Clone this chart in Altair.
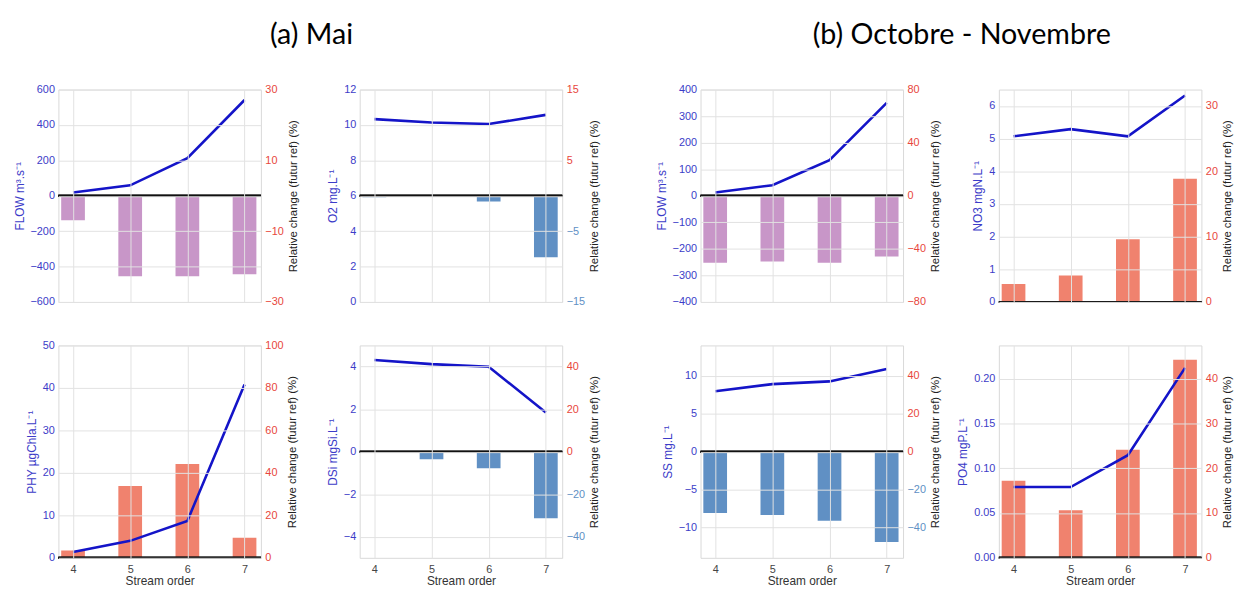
import altair as alt
import pandas as pd

# ---------------- data ----------------
orders = [4, 5, 6, 7]

# (a) Mai
flow_mai = [19, 59, 213, 541]
flow_mai_chg = [-6.9, -22.7, -22.7, -22.2]
o2_mai = [10.33, 10.14, 10.05, 10.57]
o2_mai_chg = [-0.2, -0.1, -0.8, -8.7]
phy_mai = [1.4, 4.0, 8.7, 40.8]
phy_mai_chg = [3.4, 33.8, 44.2, 9.5]
dsi_mai = [4.31, 4.12, 4.0, 1.84]
dsi_mai_chg = [-0.1, -3.6, -7.8, -31.4]

# (b) Octobre - Novembre
flow_on = [12, 40, 134, 350]
flow_on_chg = [-50.5, -49.5, -50.5, -45.8]
no3_on = [5.07, 5.29, 5.07, 6.32]
no3_on_chg = [2.76, 4.06, 9.58, 18.87]
ss_on = [7.96, 8.9, 9.26, 10.9]
ss_on_chg = [-32.3, -33.4, -36.5, -47.7]
po4_on = [0.079, 0.079, 0.1145, 0.212]
po4_on_chg = [17.2, 10.6, 24.1, 44.2]

RIGHT_TITLE = "Relative change (futur ref) (%)"

# ---------------- styles ----------------
LINE_BLUE = "#1414c8"
LAB_BLUE = "#3c3cc8"
LAB_RED = "#e8463c"
PLUM = "#c896c8"
STEEL = "#6090c4"
SALMON = "#f0826e"
GRID = "#e2e2e2"
W, H = 205, 215


def panel(left_vals, chg_vals, left_title, ldom, lticks, lfmt,
          rdom, rticks, bar_color, neg_color, bottom):
    df = pd.DataFrame({"order": orders, "value": left_vals, "change": chg_vals})
    base = alt.Chart(df)

    xaxis = alt.Axis(
        values=orders, grid=True, gridColor=GRID, domain=False, ticks=False,
        labels=bottom, format="d", labelFontSize=11, labelColor="#444444",
        labelPadding=6, title="Stream order" if bottom else None,
        titleFontSize=12, titleFontWeight="normal", titleColor="#333333",
        titlePadding=1, zindex=1,
    )
    x = alt.X("order:Q", scale=alt.Scale(domain=[3.83, 7.2], nice=False, zero=False),
              axis=xaxis)

    raxis = alt.Axis(
        orient="right", values=rticks, grid=False, domain=False, ticks=False,
        labelFontSize=11, labelPadding=4,
        labelColor={"condition": {"test": "datum.value < 0", "value": neg_color},
                    "value": LAB_RED},
        title=RIGHT_TITLE, titleAngle=270, titleBaseline="top", titleFontSize=11.5,
        titleFontWeight="normal", titleColor="#222222", titlePadding=4,
    )
    laxis = alt.Axis(
        orient="left", values=lticks, format=lfmt, grid=True, gridColor=GRID,
        domain=False, ticks=False, labelFontSize=11, labelPadding=4,
        labelColor=LAB_BLUE, title=left_title, titleFontSize=12,
        titleFontWeight="normal", titleColor=LAB_BLUE, titlePadding=4, zindex=1,
    )

    bars = base.mark_bar(color=bar_color, size=24, clip=True).encode(
        x=x,
        y=alt.Y("change:Q", scale=alt.Scale(domain=rdom, nice=False), axis=raxis),
    )
    zero = base.mark_rule(color="#111111", strokeWidth=2).encode(y=alt.Y(datum=0))
    right_layer = alt.layer(bars, zero)

    line = base.mark_line(color=LINE_BLUE, strokeWidth=2.6).encode(
        x=x,
        y=alt.Y("value:Q", scale=alt.Scale(domain=ldom, nice=False), axis=laxis),
    )
    return alt.layer(right_layer, line).resolve_scale(y="independent").properties(
        width=W, height=H)


p1 = panel(flow_mai, flow_mai_chg, "FLOW m³.s⁻¹", [-600, 600],
           [-600, -400, -200, 0, 200, 400, 600], "d",
           [-30, 30], [-30, -20, -10, 0, 10, 20, 30], PLUM, LAB_RED, False)
p2 = panel(o2_mai, o2_mai_chg, "O2 mg.L⁻¹", [0, 12], [0, 2, 4, 6, 8, 10, 12], "d",
           [-15, 15], [-15, -10, -5, 0, 5, 10, 15], STEEL, STEEL, False)
p3 = panel(phy_mai, phy_mai_chg, "PHY µgChla.L⁻¹", [0, 50], [0, 10, 20, 30, 40, 50], "d",
           [0, 100], [0, 20, 40, 60, 80, 100], SALMON, LAB_RED, True)
p4 = panel(dsi_mai, dsi_mai_chg, "DSi mgSi.L⁻¹", [-5, 5], [-4, -2, 0, 2, 4], "d",
           [-50, 50], [-40, -20, 0, 20, 40], STEEL, STEEL, True)

p5 = panel(flow_on, flow_on_chg, "FLOW m³.s⁻¹", [-400, 400],
           [-400, -300, -200, -100, 0, 100, 200, 300, 400], "d",
           [-80, 80], [-80, -60, -40, -20, 0, 20, 40, 60, 80], PLUM, LAB_RED, False)
p6 = panel(no3_on, no3_on_chg, "NO3 mgN.L⁻¹", [0, 6.5], [0, 1, 2, 3, 4, 5, 6], "d",
           [0, 32.5], [0, 5, 10, 15, 20, 25, 30], SALMON, LAB_RED, False)
p7 = panel(ss_on, ss_on_chg, "SS mg.L⁻¹", [-14, 14], [-10, -5, 0, 5, 10], "d",
           [-56, 56], [-40, -20, 0, 20, 40], STEEL, STEEL, True)
p8 = panel(po4_on, po4_on_chg, "PO4 mgP.L⁻¹", [0, 0.237],
           [0.0, 0.05, 0.10, 0.15, 0.20], ".2f",
           [0, 47.4], [0, 10, 20, 30, 40], SALMON, LAB_RED, True)

TITLE_STYLE = dict(fontSize=29, font="Lato", fontWeight="normal", color="#000000",
                   anchor="middle", offset=34)

group_a = alt.concat(
    p1, p2, p3, p4, columns=2,
    spacing={"row": 44, "column": 100}, bounds="flush",
    title=alt.TitleParams("(a) Mai", dx=5, **TITLE_STYLE),
)
group_b = alt.concat(
    p5, p6, p7, p8, columns=2,
    spacing={"row": 44, "column": 97}, bounds="flush",
    title=alt.TitleParams("(b) Octobre - Novembre", dx=18, **TITLE_STYLE),
)

chart = alt.hconcat(group_a, group_b, spacing=54).properties(
    padding={"left": 4, "top": 9, "right": 0, "bottom": 0}
).configure(font="Liberation Sans").configure_view(stroke="#d8d8d8", strokeWidth=1)

chart.save("out.html", embed_options={"renderer": "svg", "actions": False})
